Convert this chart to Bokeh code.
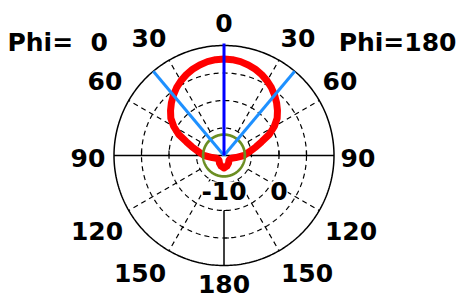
import numpy as np
from bokeh.plotting import figure
from bokeh.models import Range1d
from bokeh.core.properties import value
from bokeh.embed import file_html
from bokeh.resources import INLINE

# ---- data ----
elev_deg = [0, 5, 10, 15, 20, 25, 30, 35, 40, 45, 50, 55, 60, 65, 70, 75, 80, 85, 90,
            100, 110, 120, 135, 150, 165, 180]
gain_phi0 = [7.55, 7.49, 7.33, 7.05, 6.69, 6.22, 5.67, 5.04, 4.31, 3.53, 2.69, 1.80, 0.55,
             -0.91, -2.73, -4.0, -5.09, -5.82, -6.36, -7.82, -8.55, -8.73, -8.73, -8.36, -8.0, -7.73]
gain_phi180 = [7.55, 7.49, 7.33, 7.05, 6.69, 6.22, 5.67, 5.04, 4.31, 3.53, 2.69, 1.80, 0.55,
               -0.91, -2.73, -4.0, -5.09, -5.82, -6.36, -7.82, -8.55, -8.73, -8.73, -8.36, -8.0, -7.73]
ring_db = [-5, 0, 5]
scale_min, scale_max = -10, 10
radial_labels = ["-10", "0"]
radial_label_db = [-10, 0]
angle_labels = ["0", "30", "60", "90", "120", "150", "180"]
main_lobe_deg = 0
beam_edges_deg = [-40, 40]
green_level_db = -6.2
phi_left, phi_right = "Phi=\u00a0 0", "Phi=180"

# ---- geometry ----
W, H = 457, 302
R = 110.0
cx, cy = 223.5, 155.0  # canvas position of the pole


def rad(db):
    return (np.asarray(db, float) - scale_min) / (scale_max - scale_min) * R


p = figure(width=W, height=H, output_backend="svg", toolbar_location=None,
           x_range=Range1d(-cx, W - cx), y_range=Range1d(-(H - cy), cy),
           min_border=0, outline_line_color=None)
p.axis.visible = False
p.grid.visible = False
p.background_fill_color = "white"

# dashed rings
t = np.linspace(0, 2 * np.pi, 361)
for db in ring_db:
    r = float(rad(db))
    p.line(r * np.cos(t), r * np.sin(t), line_color="black", line_width=1.2, line_dash="5 4")
# dashed spokes
for a in [30, 60, 120, 150, 210, 240, 300, 330]:
    ar = np.radians(a)
    r0 = float(rad(ring_db[0]))
    p.line([r0 * np.sin(ar), R * np.sin(ar)], [r0 * np.cos(ar), R * np.cos(ar)],
           line_color="black", line_width=1.2, line_dash="5 4")
# outer ring and axes
p.line(R * np.cos(t), R * np.sin(t), line_color="black", line_width=1.5)
p.line([-R, R], [0, 0], line_color="black", line_width=1.5)
r0db = float(rad(0))
p.line([0, 0], [-r0db, -R], line_color="black", line_width=1.5)
for db in [0, 5]:
    r = float(rad(db))
    p.segment(x0=[r, -r], y0=[0, 0], x1=[r, -r], y1=[5, 5], line_color="black", line_width=1.2)
    p.segment(x0=[0], y0=[-r], x1=[5], y1=[-r], line_color="black", line_width=1.2)

# pattern
th = np.radians(elev_deg)
rl = rad(gain_phi0)
rr = rad(gain_phi180)
xs = np.concatenate([-(rl * np.sin(th)), (rr * np.sin(th))[::-1]])
ys = np.concatenate([rl * np.cos(th), (rr * np.cos(th))[::-1]])
p.line(xs, ys, line_color="#ff0000", line_width=7, line_join="round")

# green level circle
rg = float(rad(green_level_db))
p.line(rg * np.cos(t), rg * np.sin(t), line_color="#6b8e23", line_width=2.7)

# beamwidth lines and main lobe
for a in beam_edges_deg:
    ar = np.radians(a)
    p.line([0, R * np.sin(ar)], [0, R * np.cos(ar)], line_color="#1e90ff", line_width=3)
am = np.radians(main_lobe_deg)
p.line([0, 112 * np.sin(am)], [0, 112 * np.cos(am)], line_color="#0000ff", line_width=3)

# labels
font = value("DejaVu Sans")
fs = "25px"
lbl_pos = {"0": [(0, 133)], "30": [(-75, 118), (74, 118)], "60": [(-119, 75), (116, 75)],
           "90": [(-136, -2), (134, -2)], "120": [(-127, -75), (127, -75)],
           "150": [(-84, -117), (83, -117)], "180": [(0, -128)]}
lx, ly, lt = [], [], []
for s in angle_labels:
    for (x, y) in lbl_pos[s]:
        lx.append(x); ly.append(y); lt.append(s)
p.text(x=lx, y=ly, text=lt, text_font=font, text_font_style="bold", text_font_size=fs,
       text_align="center", text_baseline="middle", text_color="black")

rx = [float(rad(d)) for d in radial_label_db]
p.text(x=rx, y=[-35] * len(rx), text=radial_labels, text_font=font, text_font_style="bold",
       text_font_size=fs, text_align="center", text_baseline="middle", text_color="black",
       background_fill_color="white")

p.text(x=[-cx + 7], y=[113], text=[phi_left], text_font=font, text_font_style="bold",
       text_font_size=fs, text_align="left", text_baseline="middle", text_color="black")
p.text(x=[W - cx - 1], y=[113], text=[phi_right], text_font=font, text_font_style="bold",
       text_font_size=fs, text_align="right", text_baseline="middle", text_color="black")

open("out.html", "w").write(file_html(p, INLINE))
